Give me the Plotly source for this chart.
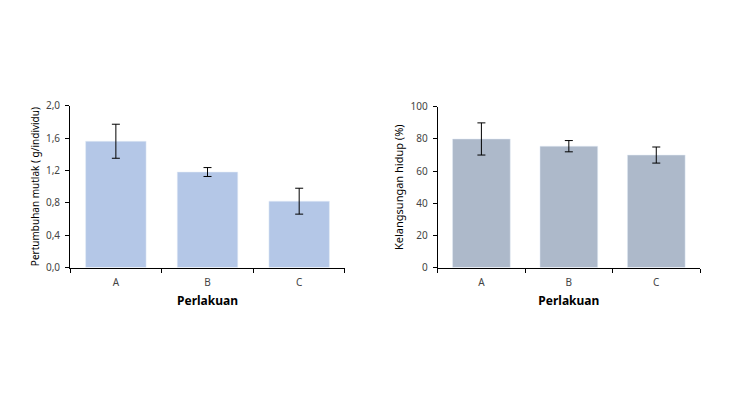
import plotly.graph_objects as go
from plotly.subplots import make_subplots

perlakuan = ['A', 'B', 'C']
pertumbuhan = [1.56, 1.18, 0.82]
pertumbuhan_err = [0.21, 0.055, 0.16]
kelangsungan = [80, 75.5, 70]
kelangsungan_err = [10, 3.5, 5]

fig = make_subplots(rows=1, cols=2)

fig.add_trace(go.Bar(
    x=perlakuan, y=pertumbuhan,
    marker=dict(color='#b4c7e7'),
    error_y=dict(type='data', array=pertumbuhan_err, color='black', thickness=1, width=4),
), row=1, col=1)

fig.add_trace(go.Bar(
    x=perlakuan, y=kelangsungan,
    marker=dict(color='#adb9ca'),
    error_y=dict(type='data', array=kelangsungan_err, color='black', thickness=1, width=4),
), row=1, col=2)

font = dict(family='Noto Sans', size=10, color='#333333')
xaxis_common = dict(
    automargin=False,
    showline=True, linecolor='black', linewidth=1,
    ticks='outside', tickson='boundaries', ticklen=4, tickcolor='black',
    ticklabelstandoff=5,
    tickfont=dict(family='Noto Sans', size=10, color='#444444'),
    title=dict(text='<b>Perlakuan</b>', font=dict(family='Noto Sans', size=12, color='black'), standoff=9),
    showgrid=False,
)
yaxis_common = dict(
    automargin=False,
    showline=True, linecolor='black', linewidth=1,
    ticks='outside', ticklen=4, tickcolor='black',
    ticklabelstandoff=3,
    tickfont=dict(family='Noto Sans', size=10, color='#444444'),
    showgrid=False, zeroline=False,
)

fig.update_layout(
    width=735, height=400,
    margin=dict(l=0, r=0, t=0, b=0),
    paper_bgcolor='white', plot_bgcolor='white',
    showlegend=False,
    bargap=0.34,
    separators=',.',
    font=font,
    xaxis=dict(domain=[0.0844, 0.4585], **xaxis_common),
    xaxis2=dict(domain=[0.5846, 0.9415], **xaxis_common),
    yaxis=dict(domain=[0.351, 0.756], range=[0, 2.0], dtick=0.4, tickformat='.1f',
               title=dict(text='Pertumbuhan mutlak ( g/individu)',
                          font=dict(family='Noto Sans', size=10, color='black'), standoff=4),
               **yaxis_common),
    yaxis2=dict(domain=[0.351, 0.753], range=[0, 100], dtick=20,
                title=dict(text='Kelangsungan hidup (%)',
                           font=dict(family='Noto Sans', size=11, color='black'), standoff=4),
                **yaxis_common),
)

fig.write_html("out.html")
